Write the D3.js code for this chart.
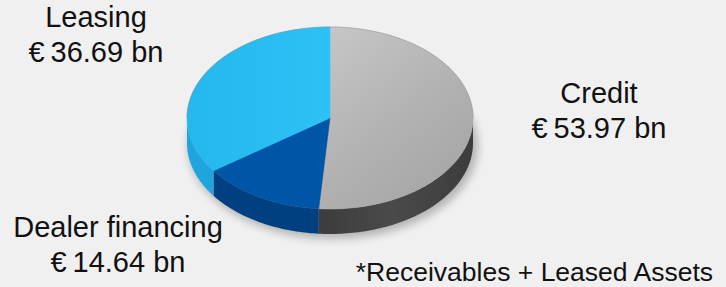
<!DOCTYPE html>
<html>
<head>
<meta charset="utf-8">
<script src="https://cdn.jsdelivr.net/npm/d3@7"></script>
<style>
  html, body { margin: 0; padding: 0; background: #f0f0f0; }
  svg { display: block; }
  text { font-family: "Liberation Sans", Arial, sans-serif; fill: #111; }
</style>
</head>
<body>
<svg id="chart"></svg>
<script>
// data
var categories = ['Credit', 'Dealer financing', 'Leasing'];
var values = [53.97, 14.64, 36.69];
var valueLabels = ['€\u200953.97 bn', '€\u200914.64 bn', '€\u200936.69 bn'];
var footnote = '*Receivables + Leased Assets';

var width = 726, height = 287;
var svg = d3.select('#chart').attr('width', width).attr('height', height);

// pie geometry (ellipse seen at an angle)
var cx = 330, cy = 118, rx = 143, ry = 91, depth = 25;

var topColor = { 'Credit': 'url(#gCreditTop)', 'Dealer financing': '#0056a6', 'Leasing': 'url(#gLeaseTop)' };
var sideColor = { 'Credit': 'url(#gCreditSide)', 'Dealer financing': '#003f80', 'Leasing': '#1fa5de' };

var defs = svg.append('defs');
function linGrad(id, x1, y1, x2, y2, stops) {
  var g = defs.append('linearGradient').attr('id', id)
    .attr('gradientUnits', 'userSpaceOnUse')
    .attr('x1', x1).attr('y1', y1).attr('x2', x2).attr('y2', y2);
  stops.forEach(function (s) {
    g.append('stop').attr('offset', s[0]).attr('stop-color', s[1]);
  });
}
linGrad('gCreditTop', cx, cy - ry, cx + rx, cy + ry, [[0, '#c6c6c6'], [0.5, '#b2b2b2'], [1, '#a2a2a2']]);
linGrad('gCreditSide', cx - 20, 0, cx + rx, 0, [[0, '#3a3a3a'], [0.5, '#4a4a4a'], [1, '#3c3c3c']]);
linGrad('gLeaseTop', cx - rx, 0, cx, 0, [[0, '#24b8ee'], [1, '#2cc2f6']]);

var blur = defs.append('filter').attr('id', 'shadow').attr('x', '-20%').attr('y', '-20%').attr('width', '140%').attr('height', '140%');
blur.append('feGaussianBlur').attr('stdDeviation', 4);

var pie = d3.pie().sort(null).value(function (d) { return d.value; });
var arcs = pie(categories.map(function (c, i) { return { name: c, value: values[i] }; }));

function pt(a, dy) {
  return [cx + rx * Math.sin(a), cy - ry * Math.cos(a) + (dy || 0)];
}
function arcPoints(a0, a1, dy) {
  var n = Math.max(2, Math.ceil(Math.abs(a1 - a0) / 0.02));
  return d3.range(n + 1).map(function (i) { return pt(a0 + (a1 - a0) * i / n, dy); });
}
var line = d3.line();

// shadow under the pie
svg.append('ellipse')
  .attr('cx', cx + 3).attr('cy', cy + depth + 3)
  .attr('rx', rx + 2).attr('ry', ry + 2)
  .attr('fill', '#000').attr('opacity', 0.25)
  .attr('filter', 'url(#shadow)');

// side walls (front half only)
var sides = svg.append('g').attr('class', 'sides');
arcs.forEach(function (d) {
  var a0 = Math.max(d.startAngle, Math.PI / 2);
  var a1 = Math.min(d.endAngle, Math.PI * 1.5);
  if (a1 <= a0) return;
  var pts = arcPoints(a0, a1, 0).concat(arcPoints(a1, a0, depth));
  sides.append('path')
    .attr('d', line(pts) + 'Z')
    .attr('fill', sideColor[d.data.name]);
});

// top faces
var tops = svg.append('g').attr('class', 'tops');
arcs.forEach(function (d) {
  var pts = [[cx, cy]].concat(arcPoints(d.startAngle, d.endAngle, 0));
  tops.append('path')
    .attr('d', line(pts) + 'Z')
    .attr('fill', topColor[d.data.name])
    .attr('stroke', topColor[d.data.name])
    .attr('stroke-width', 0.5);
});

// thin rim on the back edge
svg.append('path')
  .attr('d', line(arcPoints(-Math.PI / 2, Math.PI / 2, 0)))
  .attr('fill', 'none').attr('stroke', '#8a8a8a').attr('stroke-width', 0.8).attr('opacity', 0.6);

// labels
var labelPos = {
  'Credit': [599, 103],
  'Dealer financing': [118, 237],
  'Leasing': [96, 27]
};
var labels = svg.append('g').attr('class', 'labels');
categories.forEach(function (c, i) {
  var p = labelPos[c];
  labels.append('text').attr('x', p[0]).attr('y', p[1])
    .attr('text-anchor', 'middle').attr('font-size', 29).text(c);
  labels.append('text').attr('x', p[0]).attr('y', p[1] + 35)
    .attr('text-anchor', 'middle').attr('font-size', 29).text(valueLabels[i]);
});

svg.append('text')
  .attr('x', 713).attr('y', 281)
  .attr('text-anchor', 'end').attr('font-size', 26.5)
  .text(footnote);
</script>
</body>
</html>
